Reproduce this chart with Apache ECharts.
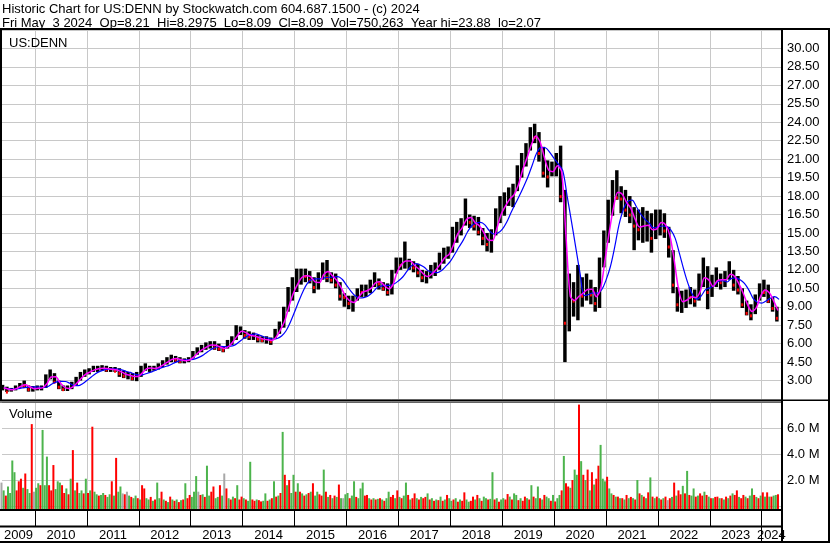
<!DOCTYPE html>
<html><head><meta charset="utf-8">
<script src="https://cdn.jsdelivr.net/npm/echarts@6/dist/echarts.min.js"></script>
<style>html,body{margin:0;padding:0;background:#fff}#c{width:830px;height:543px}</style>
</head><body><div id="c"></div>
<script>
const headerLine1 = 'Historic Chart for US:DENN by Stockwatch.com 604.687.1500 - (c) 2024';
const headerLine2 = 'Fri May  3 2024  Op=8.21  Hi=8.2975  Lo=8.09  Cl=8.09  Vol=750,263  Year hi=23.88  lo=2.07';
const symbolLabel = 'US:DENN';
const volumeLabel = 'Volume';
const firstMonth = [2009, 5];          // first monthly bar: May 2009
const axisStart = 2009.364, axisEnd = 2024.371;
const yearLabels = [2009,2010,2011,2012,2013,2014,2015,2016,2017,2018,2019,2020,2021,2022,2023,2024];

// monthly low / high / close (May 2009 .. Apr 2024)
const lows = [
 2.2,2.07,2.1,2.2,2.4,2.4,2.1,2.1,
 2.2,2.2,2.4,3.1,2.8,2.3,2.15,2.15,2.3,2.6,3.0,3.3,
 3.5,3.7,3.7,3.8,3.7,3.7,3.7,3.3,3.2,3.1,3.0,2.95,
 3.3,3.8,3.7,3.8,3.9,4.1,4.3,4.5,4.5,4.4,4.4,4.5,
 4.8,5.1,5.3,5.5,5.6,5.5,5.4,5.3,5.6,5.9,6.3,6.7,
 6.4,6.3,6.3,6.1,6.1,6.0,5.9,6.4,6.8,7.3,8.6,9.5,
 10.2,10.8,11.0,10.9,10.1,10.4,11.2,11.0,10.9,10.5,9.5,9.0,
 8.8,8.6,9.5,9.8,9.8,10.1,10.6,10.4,10.3,9.9,10.0,11.7,
 12.0,12.1,12.0,11.8,11.4,11.0,10.9,11.3,11.5,12.0,12.5,12.9,
 13.4,14.2,14.8,15.6,15.4,15.2,14.8,14.0,13.5,13.4,14.8,15.8,
 16.4,17.2,17.1,18.4,19.5,20.4,21.7,22.3,20.8,19.5,18.7,19.6,
 19.6,17.5,4.5,7.0,8.2,7.9,9.0,9.5,9.2,8.6,8.9,12.2,
 14.2,16.4,17.7,16.6,16.3,15.8,13.6,14.4,14.2,14.3,13.4,14.5,
 14.8,14.6,13.0,10.1,8.6,8.5,8.9,9.2,9.0,9.5,10.6,8.8,
 9.8,10.6,10.4,10.6,11.2,10.3,10.0,8.9,8.3,7.9,8.4,9.5,
 9.8,9.3,8.6,7.8
];
const highs = [
 2.65,2.5,2.4,2.6,2.8,3.0,2.6,2.55,
 2.6,2.6,3.5,3.9,3.6,3.0,2.6,2.6,2.9,3.3,3.7,3.9,
 4.0,4.2,4.2,4.25,4.2,4.1,4.1,4.0,3.8,3.7,3.6,3.7,
 4.2,4.4,4.2,4.2,4.4,4.65,4.9,5.1,5.0,4.9,4.8,4.9,
 5.4,5.7,5.9,6.1,6.2,6.2,6.0,5.8,6.3,6.6,7.5,7.4,
 7.1,7.0,6.9,6.7,6.6,6.6,6.5,7.2,7.8,9.0,10.6,11.4,
 12.1,12.1,12.1,11.9,11.4,11.8,12.6,12.8,11.8,11.7,11.0,10.1,
 9.9,9.9,10.5,10.8,10.8,11.2,11.8,11.3,11.0,10.9,12.0,13.0,
 13.0,14.3,12.9,12.7,12.5,12.0,11.9,12.4,12.6,13.4,13.8,13.9,
 15.5,15.9,16.2,17.8,16.5,16.4,16.3,15.4,15.0,15.3,17.0,18.0,
 18.3,18.7,19.0,20.5,21.5,22.3,23.6,23.88,23.2,22.0,20.9,20.8,
 21.5,22.1,18.5,11.7,11.0,12.4,11.4,11.7,11.2,10.6,13.0,15.2,
 17.7,19.3,20.1,18.8,18.5,18.0,17.1,16.9,17.1,16.8,16.6,16.9,
 16.9,16.6,15.5,13.6,10.6,10.3,10.4,10.6,10.4,11.7,13.0,12.3,
 11.6,12.2,11.7,11.9,12.7,12.0,11.5,10.5,9.5,9.2,10.0,10.9,
 11.2,10.8,9.8,9.0
];
const closes = [
 2.4,2.1,2.3,2.5,2.7,2.6,2.3,2.4,
 2.4,2.45,3.3,3.5,2.9,2.5,2.3,2.3,2.7,3.1,3.5,3.7,
 3.8,4.0,4.0,4.0,3.9,3.9,3.8,3.6,3.4,3.5,3.2,3.5,
 4.0,4.0,4.0,4.0,4.2,4.5,4.7,4.9,4.7,4.6,4.6,4.8,
 5.2,5.5,5.7,5.9,6.0,5.7,5.6,5.5,6.1,6.4,7.0,7.1,
 6.7,6.6,6.6,6.4,6.3,6.3,6.2,7.0,7.6,8.8,10.2,10.4,
 11.6,11.6,11.5,11.2,10.6,11.5,12.2,11.4,11.2,10.8,9.9,9.8,
 9.3,9.6,10.3,10.2,10.4,10.8,11.2,10.9,10.5,10.2,11.8,12.6,
 12.4,12.5,12.5,12.2,11.8,11.4,11.5,12.0,12.4,13.0,13.3,13.3,
 15.2,15.5,15.9,16.3,15.9,15.6,15.1,14.6,14.1,15.0,16.6,16.8,
 17.8,18.1,18.6,19.9,21.0,22.0,23.0,22.8,21.5,19.9,19.6,20.3,
 21.0,18.0,7.7,9.7,9.5,10.1,9.9,10.9,10.0,9.3,12.5,14.7,
 16.5,18.5,17.9,17.8,16.9,16.5,15.6,15.3,15.5,15.9,14.6,16.0,
 16.0,15.2,13.9,10.8,9.2,9.3,9.9,9.8,9.5,11.2,12.2,10.2,
 11.2,11.3,11.0,11.6,11.8,10.8,10.4,9.2,8.5,8.3,9.8,10.6,
 10.2,9.5,8.9,8.1
];
// half-month volume in millions; positive = up (green), negative = down (red)
const volumes = [
 1.8,1.2,-0.8,1.5,1.0,3.5,2.6,-1.2,-1.9,-2.1,1.4,-2.5,1.3,1.0,-6.3,1.1,
 1.4,1.75,-1.6,5.85,1.6,3.8,-1.6,-1.2,-3.15,1.3,1.9,1.8,-1.6,-1.0,1.35,-0.9,2.1,-4.3,1.2,-1.8,1.0,1.2,-0.97,2.1,
 -1.0,1.2,-6.1,1.1,0.9,-0.8,0.85,1.0,-0.85,0.7,0.9,-1.9,0.8,-3.7,1.1,1.5,0.97,-0.9,1.1,0.8,-0.7,0.6,0.8,-0.6,
 0.5,-1.6,-1.35,0.6,0.5,-0.7,0.4,-0.5,1.8,0.6,-1.1,0.5,-0.4,0.3,-0.72,0.5,-0.4,0.5,-0.3,0.45,-0.5,1.75,-0.6,-0.85,
 0.7,1.1,2.3,1.1,-0.85,0.9,-0.7,3.1,0.8,-1.1,-1.5,0.6,0.7,-1.6,0.8,2.5,-1.35,0.6,-0.5,0.72,-0.6,1.6,-0.5,-0.72,
 0.6,-0.5,0.4,3.4,-0.5,-0.4,0.5,-0.45,-0.35,0.4,0.97,-0.4,0.5,-0.6,1.9,-0.72,0.8,-1.0,5.7,-2.4,1.6,-2.0,1.0,2.4,
 -1.1,1.75,-1.1,0.97,-0.8,0.9,-1.0,1.1,-1.75,0.8,1.1,-0.9,-0.8,2.8,-1.1,0.7,-0.85,0.6,-0.8,0.7,-1.65,0.6,0.6,0.9,
 1.0,-0.6,0.8,1.9,-0.7,0.6,1.35,1.8,-0.8,-0.85,0.6,-0.5,0.6,-0.5,0.55,-0.6,0.5,-0.4,0.6,1.1,-0.7,-0.85,0.6,-1.2,
 0.7,-0.6,0.8,1.8,-0.85,0.5,-0.6,-0.97,0.6,-0.5,0.7,-0.6,-0.7,0.97,-0.5,0.6,-0.4,0.5,-0.45,0.72,-0.4,0.5,-0.85,0.6,
 0.4,-0.5,0.6,-0.33,0.5,-0.4,-1.05,0.5,0.33,-0.4,-0.72,0.5,-0.85,0.6,-0.4,0.72,0.6,-0.5,0.55,2.6,-0.5,0.6,-0.33,0.5,
 0.6,-0.5,-0.92,0.72,-0.5,0.97,0.85,-0.45,0.6,-0.4,-0.72,0.6,-0.5,1.6,-0.72,0.6,1.5,-0.6,0.5,-0.85,0.72,0.6,-0.4,0.85,
 -0.35,0.6,0.85,-1.2,3.85,-1.75,-1.5,1.4,-2.0,2.8,2.4,-7.8,3.45,-2.4,2.0,-2.8,1.2,-2.6,1.65,-2.1,-3.1,4.7,2.1,1.9,
 -2.25,1.35,0.97,-0.85,0.72,-0.72,0.6,-0.6,0.5,-0.85,0.6,-0.7,0.6,-0.5,2.0,-0.97,0.85,-0.72,0.6,-1.05,2.2,-0.72,0.6,-0.72,
 0.6,-0.5,0.6,-0.72,0.45,-0.6,0.7,-1.8,0.8,-1.2,-0.9,1.55,-0.97,2.7,-0.85,0.8,1.35,-0.72,0.8,-0.97,-0.8,1.1,-0.85,0.72,
 -0.6,0.6,-0.7,-0.72,0.6,-0.6,0.5,-0.72,0.6,-0.8,0.97,-0.85,-1.2,0.7,-0.6,-0.85,0.72,-0.6,0.8,1.35,-0.85,0.7,-0.6,0.8,
 -1.05,0.72,-1.05,0.72,-0.72,0.8,0.85,-0.9
];
const grayBars = [0, 15, 56, 58, 91, 103, 158, 308];

const FONT = "'Liberation Sans', Arial, sans-serif";
const GRID_COLOR = '#c8c8c8';
const monthPos = i => { const m = firstMonth[1] - 1 + i; return firstMonth[0] + Math.floor(m / 12) + ((m % 12) + 0.5) / 12; };
const tp = lows.map((l, i) => (l + highs[i] + closes[i]) / 3);
const avgBack = (i, n) => { const s = tp.slice(Math.max(0, i - n + 1), i + 1); return s.reduce((a, b) => a + b, 0) / s.length; };
const fastMA = tp.map((v, i) => [monthPos(i) + 1 / 48, avgBack(i, 2)]);
const slowMA = tp.map((v, i) => [monthPos(i) + 1 / 24, avgBack(i, 5)]);
const barData = lows.map((l, i) => [monthPos(i), l, highs[i], closes[i]]);
const downData = closes.map((c, i) => [monthPos(i), c]).filter((d, i) => i > 0 && closes[i] < closes[i - 1]);
const volColors = ['#4cb44c', '#ff0000', '#a8a8a8'];
const volData = volumes.map((v, i) => [monthPos(Math.floor(i / 2)) + (i % 2 ? 1 : -1) / 48, Math.abs(v), grayBars.includes(i) ? 2 : (v >= 0 ? 0 : 1)]);
const yearBoundaries = yearLabels.slice(1);
const labelCenters = yearLabels.map(y => (Math.max(y, axisStart) + Math.min(y + 1, axisEnd)) / 2);

function xAx(gridIndex, extra) {
  return Object.assign({
    type: 'value', gridIndex, min: axisStart, max: axisEnd,
    axisLine: { show: false },
    axisTick: { show: false, customValues: yearBoundaries },
    axisLabel: { show: false },
    splitLine: { show: true, lineStyle: { color: GRID_COLOR, width: 1 } }
  }, extra || {});
}
const txt = { fontSize: 13, fontWeight: 'normal', color: '#000', fontFamily: FONT, lineHeight: 14 };
const line = (x, y, w, h) => ({ type: 'rect', shape: { x, y, width: w, height: h }, style: { fill: '#000' }, z: 100 });

const chart = echarts.init(document.getElementById('c'));
chart.setOption({
  animation: false,
  backgroundColor: '#fff',
  title: [
    { text: headerLine1, left: 2, top: 2, padding: 0, textStyle: txt },
    { text: headerLine2, left: 2, top: 16, padding: 0, textStyle: txt },
    { text: symbolLabel, left: 9, top: 36, padding: 0, textStyle: txt },
    { text: volumeLabel, left: 9, top: 407, padding: 0, textStyle: txt }
  ],
  grid: [
    { left: 2, top: 30, width: 779, height: 369 },
    { left: 2, top: 402, width: 779, height: 104 },
    { left: 2, top: 511, width: 779, height: 15 },
    { left: 2, top: 527, width: 779, height: 14 }
  ],
  xAxis: [
    xAx(0), xAx(1),
    xAx(2, { splitLine: { show: true, lineStyle: { color: '#000', width: 1 } } }),
    xAx(3, {
      position: 'top',
      axisTick: { show: false, customValues: [2024] },
      splitLine: { show: true, lineStyle: { color: '#000', width: 1 } },
      axisLabel: { show: true, inside: true, margin: 2, customValues: labelCenters, formatter: v => String(Math.floor(v)), fontSize: 13, color: '#000', fontFamily: FONT }
    })
  ],
  yAxis: [
    { type: 'value', gridIndex: 0, position: 'right', min: 1.5, max: 31.5, interval: 1.5,
      axisLine: { show: false }, axisTick: { show: false },
      axisLabel: { margin: 6, fontSize: 13, color: '#000', fontFamily: FONT, showMinLabel: false, showMaxLabel: false, formatter: v => v.toFixed(2) },
      splitLine: { lineStyle: { color: GRID_COLOR, width: 1 } } },
    { type: 'value', gridIndex: 1, position: 'right', min: 0, max: 8, interval: 2,
      axisLine: { show: false }, axisTick: { show: false },
      axisLabel: { margin: 6, fontSize: 13, color: '#000', fontFamily: FONT, showMinLabel: false, showMaxLabel: false, formatter: v => v.toFixed(1) + ' M' },
      splitLine: { lineStyle: { color: GRID_COLOR, width: 1 } } },
    { type: 'value', gridIndex: 2, min: 0, max: 1, show: false },
    { type: 'value', gridIndex: 3, min: 0, max: 1, show: false }
  ],
  series: [
    { type: 'custom', xAxisIndex: 0, yAxisIndex: 0, data: barData, z: 2,
      renderItem(params, api) {
        const x = api.value(0), lo = api.value(1), hi = api.value(2);
        const p1 = api.coord([x, hi]), p2 = api.coord([x, lo]);
        const w = api.size([1 / 12, 0])[0];
        return { type: 'rect', shape: { x: p1[0] - w * 0.4, y: p1[1], width: w * 0.8, height: Math.max(1, p2[1] - p1[1]) }, style: { fill: '#000' } };
      } },
    { type: 'custom', xAxisIndex: 0, yAxisIndex: 0, data: downData, z: 3,
      renderItem(params, api) {
        const p = api.coord([api.value(0), api.value(1)]);
        return { type: 'rect', shape: { x: p[0] - 1, y: p[1] - 1, width: 2, height: 3 }, style: { fill: '#ff0000' } };
      } },
    { type: 'line', xAxisIndex: 0, yAxisIndex: 0, data: slowMA, showSymbol: false, smooth: 0.35, z: 4,
      lineStyle: { color: '#0000ff', width: 1.2 } },
    { type: 'line', xAxisIndex: 0, yAxisIndex: 0, data: fastMA, showSymbol: false, smooth: 0.3, z: 5,
      lineStyle: { color: '#ff00ff', width: 1.5 } },
    { type: 'custom', xAxisIndex: 1, yAxisIndex: 1, data: volData, z: 2,
      renderItem(params, api) {
        const p = api.coord([api.value(0), api.value(1)]);
        const bottom = params.coordSys.y + params.coordSys.height + 3;
        return { type: 'rect', shape: { x: p[0] - 1, y: p[1], width: 2, height: bottom - p[1] }, style: { fill: volColors[api.value(2)] } };
      } }
  ],
  graphic: [
    line(0, 28, 830, 2),
    line(0, 30, 2, 370),
    line(781, 30, 2, 513),
    line(828, 30, 2, 513),
    line(0, 399.5, 830, 1.5),
    line(0, 401.5, 781, 1),
    line(0, 509, 783, 2),
    line(0, 525.5, 783, 2),
    line(0, 541, 830, 2)
  ]
});
</script>
</body></html>
